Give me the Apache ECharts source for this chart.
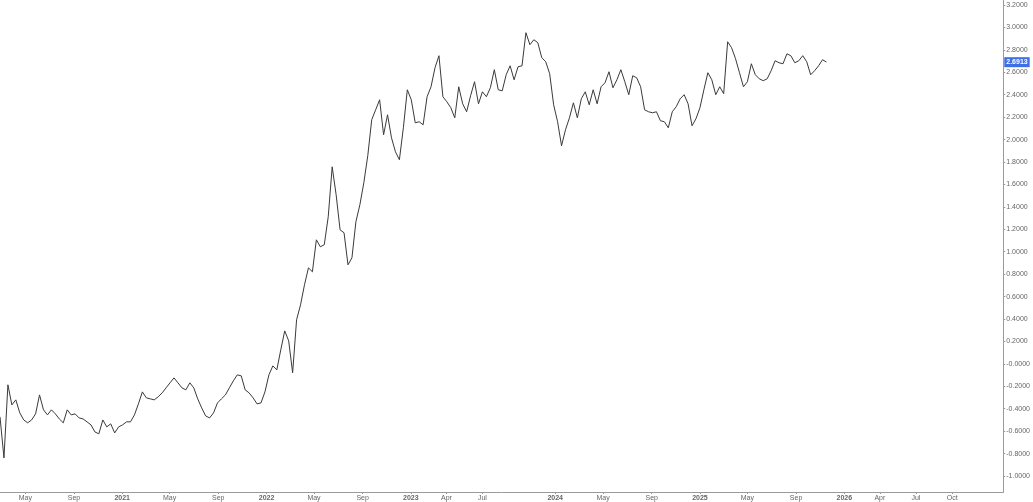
<!DOCTYPE html>
<html>
<head>
<meta charset="utf-8">
<script src="https://cdn.jsdelivr.net/npm/echarts@6/dist/echarts.min.js"></script>
<style>
html,body{margin:0;padding:0;background:#fff;}
#chart{width:1033px;height:502px;}
</style>
</head>
<body>
<div id="chart"></div>
<script>
// Series: fixed 10-day sampling starting 2020-02-27
var seriesStart = [2020, 1, 27];
var stepDays = 10;
var seriesValues = [
-0.473,-0.839,-0.187,-0.366,-0.321,-0.437,-0.500,-0.526,-0.500,-0.446,
-0.277,-0.410,-0.455,-0.410,-0.446,-0.491,-0.526,-0.410,-0.455,-0.446,
-0.482,-0.491,-0.517,-0.544,-0.607,-0.624,-0.500,-0.562,-0.535,-0.616,
-0.562,-0.544,-0.517,-0.517,-0.455,-0.357,-0.250,-0.303,-0.312,-0.321,
-0.294,-0.259,-0.214,-0.169,-0.125,-0.169,-0.214,-0.232,-0.169,-0.214,
-0.312,-0.393,-0.464,-0.482,-0.437,-0.348,-0.312,-0.277,-0.214,-0.152,
-0.098,-0.107,-0.232,-0.259,-0.303,-0.357,-0.348,-0.250,-0.098,-0.018,
-0.054,0.125,0.294,0.205,-0.080,0.393,0.526,0.705,0.856,0.821,
1.106,1.044,1.062,1.311,1.757,1.508,1.195,1.169,0.883,0.946,
1.267,1.418,1.615,1.856,2.177,2.266,2.355,2.043,2.221,2.016,
1.891,1.820,2.105,2.444,2.355,2.150,2.159,2.132,2.382,2.471,
2.640,2.748,2.382,2.337,2.284,2.194,2.471,2.319,2.248,2.391,
2.516,2.319,2.426,2.382,2.462,2.623,2.444,2.435,2.578,2.658,
2.533,2.649,2.658,2.953,2.846,2.890,2.864,2.730,2.694,2.587,
2.310,2.159,1.945,2.087,2.194,2.328,2.194,2.364,2.426,2.310,
2.444,2.319,2.471,2.507,2.605,2.462,2.533,2.623,2.516,2.400,
2.569,2.551,2.471,2.266,2.248,2.239,2.248,2.168,2.159,2.105,
2.248,2.293,2.364,2.400,2.319,2.123,2.186,2.284,2.444,2.596,
2.533,2.400,2.471,2.409,2.872,2.819,2.721,2.596,2.471,2.516,
2.676,2.578,2.542,2.525,2.542,2.614,2.703,2.685,2.676,2.765,
2.747,2.685,2.703,2.748,2.694,2.578,2.614,2.658,2.712,2.6913
];
var lastValue = 2.6913;

var yTicks = [-1.0,-0.8,-0.6,-0.4,-0.2,0.0,0.2,0.4,0.6,0.8,1.0,1.2,1.4,1.6,1.8,2.0,2.2,2.4,2.6,2.8,3.0,3.2];

var xTickDates = ['2020-05-01','2020-09-01','2021-01-01','2021-05-01','2021-09-01','2022-01-01','2022-05-01','2022-09-01','2023-01-01','2023-04-01','2023-07-01','2024-01-01','2024-05-01','2024-09-01','2025-01-01','2025-05-01','2025-09-01','2026-01-01','2026-04-01','2026-07-01','2026-10-01'];
var xTickLabels = ['May','Sep','2021','May','Sep','2022','May','Sep','2023','Apr','Jul','2024','May','Sep','2025','May','Sep','2026','Apr','Jul','Oct'];

function ts(s){ var p = s.split('-'); return Date.UTC(+p[0], +p[1]-1, +p[2]); }

var data = seriesValues.map(function(v, i){
  return [Date.UTC(seriesStart[0], seriesStart[1], seriesStart[2] + stepDays*i), v];
});
var xTickTs = xTickDates.map(ts);
var labelMap = {};
xTickTs.forEach(function(t, i){ labelMap[t] = xTickLabels[i]; });

var chart = echarts.init(document.getElementById('chart'), null, {renderer:'canvas'});
chart.setOption({
  animation:false,
  backgroundColor:'#ffffff',
  grid:{left:0, right:24, top:0, bottom:10, containLabel:false},
  xAxis:{
    type:'value',
    min: ts('2020-02-27'),
    max: ts('2027-02-07'),
    axisLine:{show:true, onZero:false, lineStyle:{color:'#9a9a9a', width:1}},
    axisTick:{show:true, length:2, lineStyle:{color:'#9a9a9a'}, customValues: xTickTs},
    splitLine:{show:false},
    axisLabel:{
      customValues: xTickTs,
      fontSize:7, color:'#666', margin:3, fontFamily:'Liberation Sans, Arial, sans-serif',
      formatter:function(v){
        var l = labelMap[v] || '';
        return /^\d{4}$/.test(l) ? '{b|'+l+'}' : l;
      },
      rich:{b:{fontSize:7, fontWeight:'bold', color:'#666'}}
    }
  },
  yAxis:{
    type:'value',
    position:'right',
    min:-1.1427,
    max:3.2446,
    axisLine:{show:true, lineStyle:{color:'#9a9a9a', width:1}},
    axisTick:{show:true, length:2, lineStyle:{color:'#9a9a9a'}, customValues: yTicks},
    splitLine:{show:false},
    axisLabel:{
      customValues: yTicks,
      fontSize:7, color:'#666', margin:3, fontFamily:'Liberation Sans, Arial, sans-serif',
      formatter:function(v){ return (Math.abs(v) < 1e-9 ? '-0.0000' : v.toFixed(4)); }
    }
  },
  series:[{
    type:'line',
    data:data,
    clip:false,
    z:3,
    showSymbol:false,
    symbol:'none',
    lineStyle:{color:'#3a3a3a', width:1},
    markLine:{
      silent:true,
      z:10,
      symbol:['none','none'],
      lineStyle:{color:'rgba(255,255,255,0)', width:0, type:'solid'},
      data:[{yAxis:lastValue}],
      label:{
        show:true, position:'end', distance:1, opacity:1,
        formatter:function(){ return lastValue.toFixed(4); },
        backgroundColor:'#3f6fe6', color:'#ffffff', fontSize:7, fontWeight:'bold',
        padding:[2,2,1,2], fontFamily:'Liberation Sans, Arial, sans-serif'
      }
    }
  }]
});
</script>
</body>
</html>
